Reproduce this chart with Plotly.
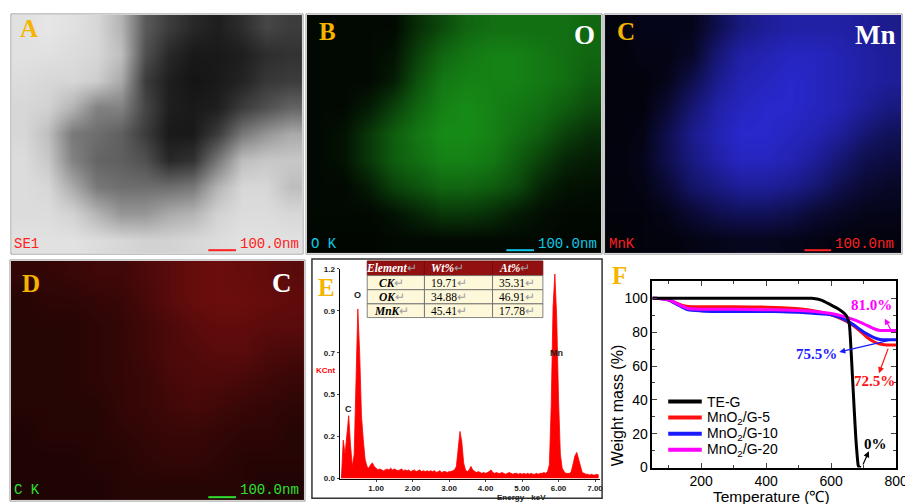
import plotly.graph_objects as go

W, H = 913, 504


def px(x):
    return x / W


def py(y):
    return 1 - y / H


# Panel A: TEM brightness (0 = black, 255 = white), coarse 9 x 12 grid
tem_gray = [
    [225, 230, 225, 215, 180, 90, 60, 40, 30, 45, 70, 60],
    [225, 225, 220, 215, 190, 80, 40, 25, 25, 30, 45, 50],
    [220, 215, 215, 205, 170, 60, 30, 20, 25, 35, 55, 60],
    [215, 210, 180, 130, 130, 70, 30, 25, 30, 60, 80, 100],
    [215, 190, 120, 110, 95, 60, 25, 25, 60, 120, 150, 170],
    [220, 200, 130, 100, 95, 80, 40, 50, 120, 190, 200, 200],
    [220, 215, 170, 120, 110, 110, 110, 120, 180, 215, 215, 190],
    [220, 220, 210, 180, 150, 150, 170, 180, 210, 220, 220, 215],
    [225, 225, 225, 220, 215, 210, 210, 215, 220, 225, 225, 225],
]

# Panels B-D: EDS mapping, relative dot density per cell
o_density = [
    [0.05, 0.05, 0.05, 0.05, 0.25, 0.40, 0.55, 0.60, 0.60, 0.60, 0.60, 0.55],
    [0.05, 0.05, 0.05, 0.10, 0.35, 0.55, 0.65, 0.70, 0.70, 0.65, 0.60, 0.55],
    [0.05, 0.05, 0.05, 0.15, 0.45, 0.65, 0.70, 0.70, 0.70, 0.65, 0.60, 0.50],
    [0.05, 0.05, 0.15, 0.35, 0.55, 0.70, 0.75, 0.70, 0.65, 0.60, 0.50, 0.40],
    [0.05, 0.10, 0.30, 0.50, 0.65, 0.75, 0.75, 0.70, 0.60, 0.50, 0.35, 0.25],
    [0.05, 0.10, 0.30, 0.50, 0.60, 0.70, 0.70, 0.65, 0.50, 0.35, 0.20, 0.15],
    [0.05, 0.05, 0.15, 0.35, 0.45, 0.55, 0.55, 0.50, 0.40, 0.20, 0.10, 0.08],
    [0.05, 0.05, 0.05, 0.10, 0.20, 0.30, 0.30, 0.25, 0.15, 0.08, 0.05, 0.05],
    [0.03, 0.03, 0.03, 0.05, 0.05, 0.05, 0.05, 0.05, 0.05, 0.05, 0.03, 0.03],
]
mn_density = [
    [0.05, 0.10, 0.10, 0.10, 0.30, 0.50, 0.60, 0.65, 0.65, 0.65, 0.60, 0.55],
    [0.05, 0.08, 0.08, 0.15, 0.45, 0.65, 0.70, 0.75, 0.75, 0.70, 0.65, 0.60],
    [0.05, 0.05, 0.10, 0.30, 0.55, 0.70, 0.75, 0.80, 0.75, 0.70, 0.65, 0.60],
    [0.05, 0.05, 0.20, 0.45, 0.65, 0.75, 0.80, 0.80, 0.75, 0.70, 0.60, 0.50],
    [0.05, 0.08, 0.30, 0.55, 0.70, 0.80, 0.80, 0.75, 0.70, 0.60, 0.45, 0.35],
    [0.05, 0.10, 0.30, 0.50, 0.65, 0.75, 0.75, 0.70, 0.60, 0.45, 0.30, 0.25],
    [0.05, 0.08, 0.20, 0.40, 0.50, 0.60, 0.60, 0.55, 0.45, 0.30, 0.20, 0.15],
    [0.05, 0.05, 0.10, 0.20, 0.30, 0.35, 0.35, 0.30, 0.20, 0.15, 0.10, 0.10],
    [0.03, 0.05, 0.05, 0.08, 0.10, 0.12, 0.12, 0.10, 0.08, 0.05, 0.05, 0.05],
]
c_density = [
    [0.20, 0.20, 0.22, 0.25, 0.25, 0.30, 0.35, 0.40, 0.42, 0.40, 0.38, 0.35],
    [0.15, 0.18, 0.18, 0.20, 0.22, 0.28, 0.35, 0.40, 0.42, 0.42, 0.40, 0.38],
    [0.15, 0.15, 0.15, 0.18, 0.20, 0.25, 0.30, 0.35, 0.38, 0.38, 0.35, 0.35],
    [0.15, 0.15, 0.15, 0.18, 0.20, 0.25, 0.30, 0.32, 0.35, 0.35, 0.30, 0.28],
    [0.15, 0.15, 0.15, 0.18, 0.20, 0.22, 0.28, 0.30, 0.30, 0.28, 0.25, 0.22],
    [0.15, 0.15, 0.15, 0.15, 0.20, 0.22, 0.25, 0.28, 0.25, 0.22, 0.20, 0.18],
    [0.12, 0.15, 0.15, 0.15, 0.18, 0.20, 0.22, 0.22, 0.20, 0.18, 0.18, 0.15],
    [0.12, 0.12, 0.12, 0.15, 0.15, 0.18, 0.20, 0.20, 0.18, 0.15, 0.15, 0.15],
    [0.12, 0.12, 0.12, 0.12, 0.15, 0.15, 0.15, 0.15, 0.15, 0.15, 0.12, 0.12],
]

# Panel E: EDS spectrum, KCnt every 0.05 keV from 0.05 to 7.10 keV
eds_counts = [
    0.00, 0.22, 0.14, 0.27, 0.36, 0.19, 0.07, 0.14, 0.52, 0.97,
    0.72, 0.36, 0.22, 0.11, 0.07, 0.06, 0.08, 0.09, 0.07, 0.06,
    0.05, 0.055, 0.05, 0.045, 0.05, 0.055, 0.05, 0.06, 0.05, 0.055,
    0.05, 0.045, 0.05, 0.055, 0.045, 0.05, 0.045, 0.05, 0.04, 0.045,
    0.05, 0.04, 0.045, 0.05, 0.04, 0.045, 0.04, 0.045, 0.04, 0.045,
    0.04, 0.045, 0.035, 0.04, 0.045, 0.035, 0.04, 0.04, 0.035, 0.04,
    0.04, 0.045, 0.05, 0.07, 0.16, 0.27, 0.21, 0.09, 0.05, 0.04,
    0.05, 0.07, 0.05, 0.04, 0.035, 0.04, 0.035, 0.03, 0.035, 0.03,
    0.035, 0.04, 0.05, 0.035, 0.03, 0.035, 0.03, 0.03, 0.035, 0.03,
    0.025, 0.03, 0.035, 0.03, 0.025, 0.03, 0.03, 0.025, 0.03, 0.025,
    0.03, 0.025, 0.03, 0.025, 0.03, 0.025, 0.025, 0.03, 0.025, 0.03,
    0.03, 0.035, 0.03, 0.04, 0.08, 0.42, 0.98, 1.17, 0.92, 0.46,
    0.14, 0.06, 0.04, 0.03, 0.03, 0.03, 0.04, 0.08, 0.13, 0.15,
    0.11, 0.06, 0.035, 0.03, 0.025, 0.025, 0.02, 0.025, 0.02, 0.02,
    0.025, 0.02,
]
eds_energy = [round(0.05 * (i + 1), 2) for i in range(len(eds_counts))]
eds_peaks = ['C', 'O', 'Mn']
eds_peak_pos = [(0.25, 0.40), (0.50, 1.05), (5.95, 0.72)]

energy_ticks = [1, 2, 3, 4, 5, 6, 7]
energy_labels = ['1.00', '2.00', '3.00', '4.00', '5.00', '6.00', '7.00']
kcnt_ticks = [0, 0.24, 0.48, 0.72, 0.96, 1.2]
kcnt_labels = ['0.0', '0.2', '0.5', '0.7', '0.9', '1.2']

table_head = ['Element', 'Wt%', 'At%']
table_elem = ['CK', 'OK', 'MnK']
table_wt = ['19.71', '34.88', '45.41']
table_at = ['35.31', '46.91', '17.78']

# Panel F: TGA curves
temp_teg = [50, 100, 200, 300, 400, 500, 540, 570, 600, 620, 641, 650, 656,
            661, 666, 671, 676, 680, 683, 686, 692]
mass_teg = [100, 100, 100, 100, 100, 100, 100, 99, 96, 94, 91, 88.5, 84.5,
            70, 52, 34, 17, 7, 1.5, 0.2, 0]

temp_g5 = [50, 80, 100, 120, 140, 160, 200, 300, 400, 450, 500, 550, 600,
           630, 660, 690, 710, 730, 750, 770, 800]
mass_g5 = [100, 99.8, 99, 97.5, 96, 95.2, 95, 95, 94.8, 94.5, 93.8, 92.5, 90.3,
           88, 85, 80.5, 77, 74.5, 73, 72.5, 72.5]

temp_g10 = [50, 80, 100, 120, 140, 160, 200, 250, 300, 400, 450, 500, 550,
            600, 630, 660, 690, 710, 730, 750, 770, 800]
mass_g10 = [100, 99.8, 99, 97, 95, 93.2, 92.6, 92.3, 92.3, 92.2, 92.1, 91.8, 91,
            90.3, 88.5, 85.5, 81.5, 79, 77, 75.7, 75.5, 75.5]

temp_g20 = [50, 80, 100, 120, 140, 160, 200, 300, 400, 450, 500, 550, 600,
            630, 660, 690, 710, 730, 750, 770, 800]
mass_g20 = [100, 99.8, 99.2, 97.5, 95.5, 94, 93.6, 93.5, 93.3, 93.1, 92.8, 92.2, 91,
            89.8, 88, 85.8, 84, 82.2, 81, 81, 81]

# residual mass labels: text, colour, text position, arrow head, arrow tail
residues = [
    ('81.0%', '#ff00ff', (723, 96), (765, 88), (786, 80.6)),
    ('75.5%', '#1a1aff', (556, 67), (625, 68.3), (796, 76)),
    ('72.5%', '#ff1010', (734, 51), (747, 55.8), (777, 71.2)),
    ('0%', 'black', (737, 14), (716, 9.6), (696, 1)),
]

GOLD = '#f5b400'
SERIF = 'Liberation Serif'
MONO = 'Liberation Mono'
SANS = 'Liberation Sans'

fig = go.Figure()
annotations = []
shapes = []


def note(x, y, text, size, color, family=SERIF, xanchor='center', **kw):
    annotations.append(dict(x=px(x), y=py(y), xref='paper', yref='paper', text=text,
                            showarrow=False, xanchor=xanchor, yanchor='middle',
                            font=dict(family=family, size=size, color=color), **kw))


def box(x0, x1, y0, y1, line, width=1, fill=None):
    shapes.append(dict(type='rect', xref='paper', yref='paper', x0=px(x0), x1=px(x1),
                       y0=py(y1), y1=py(y0), line=dict(color=line, width=width),
                       fillcolor=fill))


# image-like panels as smoothed heatmaps
maps = [
    (1, tem_gray, [[0, 'black'], [1, 'white']], 255, (4, 298, 3, 247)),
    (2, o_density, [[0, 'black'], [1, 'rgb(30,185,30)']], 1, (303, 601, 3, 247)),
    (3, mn_density, [[0, 'black'], [1, 'rgb(50,50,255)']], 1, (605, 905, 3, 247)),
    (4, c_density, [[0, 'black'], [1, 'rgb(255,30,30)']], 1, (3, 300, 255, 500)),
]
layout_axes = {}
for n, z, cs, zmax, (x0, x1, y0, y1) in maps:
    sfx = '' if n == 1 else str(n)
    fig.add_trace(go.Heatmap(z=z, colorscale=cs, zmin=0, zmax=zmax, zsmooth='best',
                             showscale=False, hoverinfo='skip',
                             xaxis='x' + sfx, yaxis='y' + sfx))
    layout_axes['xaxis' + sfx] = dict(domain=[px(x0), px(x1)], anchor='y' + sfx,
                                      range=[-0.5, 11.5], visible=False)
    layout_axes['yaxis' + sfx] = dict(domain=[py(y1), py(y0)], anchor='x' + sfx,
                                      range=[8.5, -0.5], visible=False)

# panel E spectrum
fig.add_trace(go.Scatter(x=eds_energy, y=eds_counts, mode='lines', fill='tozeroy',
                         line=dict(color='#ff0000', width=0.8), fillcolor='#ff0000',
                         showlegend=False, hoverinfo='skip', xaxis='x5', yaxis='y5'))
layout_axes['xaxis5'] = dict(
    domain=[px(336), px(600)], anchor='y5', range=[0, 7.14],
    tickvals=energy_ticks, ticktext=['<b>%s</b>' % t for t in energy_labels],
    tickfont=dict(family=SANS, size=8, color='#222'), ticks='outside', ticklen=2,
    showline=True, linecolor='black', linewidth=1, showgrid=False, zeroline=False)
layout_axes['yaxis5'] = dict(
    domain=[py(478), py(263)], anchor='x5', range=[0, 1.2],
    tickvals=kcnt_ticks, ticktext=['<b>%s</b>' % t for t in kcnt_labels],
    tickfont=dict(family=SANS, size=8, color='#222'), ticks='outside', ticklen=2,
    showline=True, linecolor='black', linewidth=1, showgrid=False, zeroline=False)

# EDS quantification table, drawn cell by cell (↵ = Word paragraph marks)
col_x = [364, 422, 491, 542]
row_y = [255, 270, 284.5, 299, 313]
mark = "<span style='color:#a0a0a0'>↵</span>"
table_rows = [table_head] + [list(r) for r in zip(table_elem, table_wt, table_at)]
for r, row in enumerate(table_rows):
    y0, y1 = row_y[r], row_y[r + 1]
    for c, val in enumerate(row):
        x0, x1 = col_x[c], col_x[c + 1]
        head = r == 0
        box(x0, x1, y0, y1, '#6a0a0a' if head else '#666', 0.8,
            '#931010' if head else '#fdf8d9')
        txt = '<b><i>%s</i></b>' % val if (head or c == 0) else val
        if c == 0:
            note((x0 + x1) / 2 - 4, (y0 + y1) / 2, txt + mark, 11.5,
                 'white' if head else 'black')
        else:
            note(x0 + 5, (y0 + y1) / 2, txt + mark, 11.5,
                 'white' if head else 'black', xanchor='left')

# panel F TGA curves, black drawn last so it sits on top
curves = [
    ('MnO<sub>2</sub>/G-5', temp_g5, mass_g5, '#ff1010'),
    ('MnO<sub>2</sub>/G-10', temp_g10, mass_g10, '#1a1aff'),
    ('MnO<sub>2</sub>/G-20', temp_g20, mass_g20, '#ff00ff'),
    ('TE-G', temp_teg, mass_teg, 'black'),
]
for name, t, m, color in curves:
    fig.add_trace(go.Scatter(x=t, y=m, mode='lines', name=name, showlegend=False,
                             line=dict(color=color, width=3, shape='spline', smoothing=0.6),
                             xaxis='x6', yaxis='y6'))

frame = dict(showline=True, linecolor='black', linewidth=1.5, mirror='ticks',
             ticks='inside', ticklen=5, showgrid=False, zeroline=False,
             tickfont=dict(family=SANS, size=14, color='black'))
layout_axes['xaxis6'] = dict(domain=[px(653), px(900)], anchor='y6', range=[50, 800],
                             tickvals=[200, 400, 600, 800], ticklabelstandoff=0,
                             minor=dict(tickvals=[100, 300, 500, 700], ticks='inside', ticklen=3),
                             **frame)
layout_axes['yaxis6'] = dict(domain=[py(466.7), py(276)], anchor='x6', range=[0, 110],
                             tickvals=[0, 20, 40, 60, 80, 100],
                             minor=dict(tickvals=[10, 30, 50, 70, 90], ticks='inside', ticklen=3),
                             **frame)

# panel letters
for letter, (x, y) in zip('ABCDEF', [(21, 17), (324, 20), (626, 20), (23, 278),
                                      (323, 282), (620, 270)]):
    note(x, y, '<b>%s</b>' % letter, 25, GOLD)

# element names on the maps
note(584, 24, '<b>O</b>', 27, 'white')
note(879, 24, '<b>Mn</b>', 27, 'white')
note(278, 278, '<b>C</b>', 27, 'white')

# detector labels and scale bars
note(4, 238, 'SE1', 14, '#ff2020', MONO, 'left')
note(305, 238, 'O K', 14, '#10c8e8', MONO, 'left')
note(607, 238, 'MnK', 14, '#ff2020', MONO, 'left')
note(4, 490, 'C K', 14, '#30e030', MONO, 'left')
for (bx0, bx1, by, tx, ty, color) in [(203, 231, 244, 265, 238, '#ff2020'),
                                      (505, 533, 244, 567, 238, '#10c8e8'),
                                      (807, 834, 244, 868, 238, '#ff2020'),
                                      (203, 231, 497, 265, 490, '#30e030')]:
    note(tx, ty, '100.0nm', 14, color, MONO)
    shapes.append(dict(type='line', xref='paper', yref='paper', x0=px(bx0), x1=px(bx1),
                       y0=py(by), y1=py(by), line=dict(color=color, width=2)))

# panel frames
for (x0, x1, y0, y1, color, w) in [(3, 299, 2, 248, '#9a9a9a', 1),
                                   (302, 602, 2, 248, '#9a9a9a', 1),
                                   (604, 906, 2, 248, '#9a9a9a', 1),
                                   (2, 301, 254, 501, '#9a9a9a', 1),
                                   (308, 602, 253, 498, '#333333', 1.5)]:
    box(x0, x1, y0, y1, color, w)

# panel E labels
for lab, (ex, ey) in zip(eds_peaks, eds_peak_pos):
    annotations.append(dict(x=ex, y=ey, xref='x5', yref='y5', text='<b>%s</b>' % lab,
                            showarrow=False, font=dict(family=SANS, size=9, color='#222')))
note(322, 367, '<b>KCnt</b>', 8, '#ff0000', SANS)
note(520, 497, '<b>Energy - keV</b>', 8, '#222', SANS)

# panel F axis titles
note(774, 496, 'Temperature (℃)', 15.5, 'black', SANS)
note(618, 403, 'Weight mass (%)', 16, 'black', SANS, textangle=-90)

# panel F legend, drawn by hand to match the tight row spacing
for (name, t, m, color), ly in zip([curves[3]] + curves[:3], [399, 415.5, 432, 448.5]):
    shapes.append(dict(type='line', xref='paper', yref='paper', x0=px(669), x1=px(703),
                       y0=py(ly), y1=py(ly), line=dict(color=color, width=4)))
    note(706, ly, name, 14, 'black', SANS, 'left')

# residual mass labels with arrows pointing at the text
for text, color, (tx, ty), (hx, hy), (sx, sy) in residues:
    annotations.append(dict(x=tx, y=ty, xref='x6', yref='y6', text='<b>%s</b>' % text,
                            showarrow=False, font=dict(family=SERIF, size=15, color=color)))
    annotations.append(dict(x=hx, y=hy, xref='x6', yref='y6', ax=sx, ay=sy,
                            axref='x6', ayref='y6', text='', showarrow=True,
                            arrowhead=2, arrowsize=1, arrowwidth=1.2, arrowcolor=color,
                            standoff=0, startstandoff=0))

fig.update_layout(
    width=W, height=H, margin=dict(l=0, r=0, t=0, b=0),
    paper_bgcolor='white', plot_bgcolor='white', showlegend=False,
    annotations=annotations, shapes=shapes,
    **layout_axes,
)

fig.write_html("out.html")
